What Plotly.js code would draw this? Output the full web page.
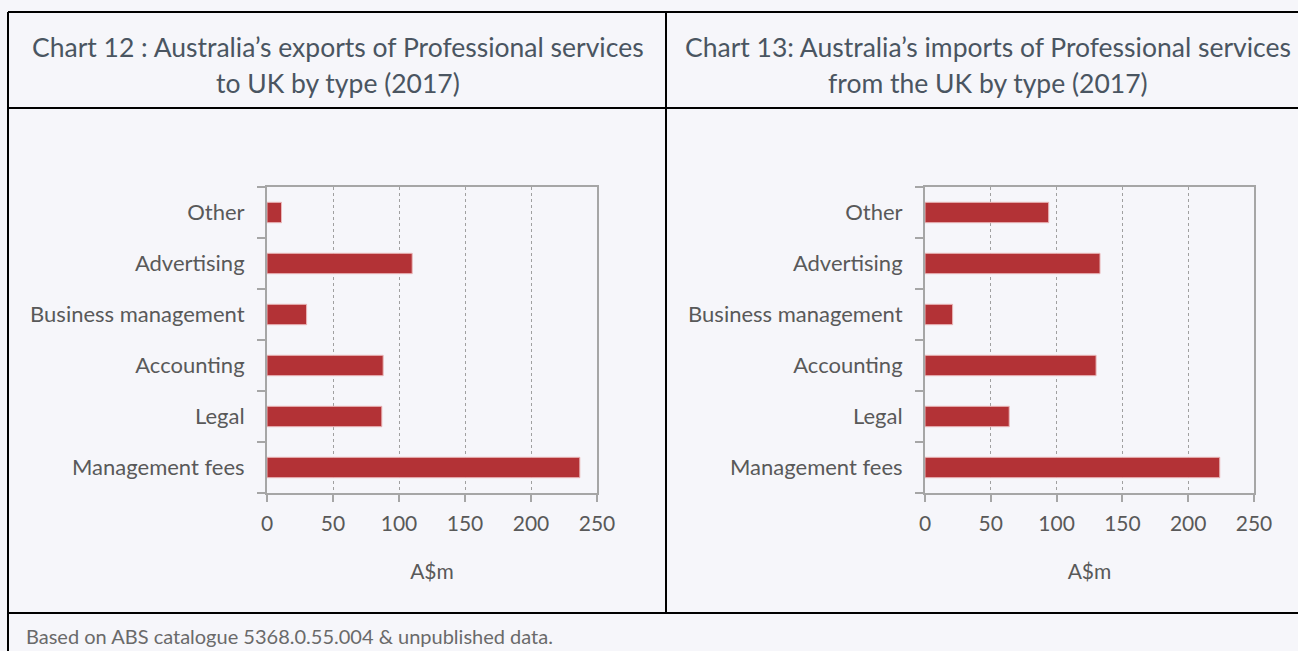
<!DOCTYPE html>
<html>
<head>
<meta charset="utf-8">
<script src="https://cdn.plot.ly/plotly-3.0.1.min.js"></script>
<style>
html,body{margin:0;padding:0;background:#f6f6fa;}
#chart{width:1298px;height:651px;}
</style>
</head>
<body>
<div id="chart"></div>
<script>
const categories = ['Management fees', 'Legal', 'Accounting', 'Business management', 'Advertising', 'Other'];
const exportValues = [237, 87, 88, 30, 110, 11];
const importValues = [224, 64, 130, 21, 133, 94];
const xTickValues = [0, 50, 100, 150, 200, 250];
const leftTitleLines = ['Chart 12 : Australia\u2019s exports of Professional services', 'to UK by type (2017)'];
const rightTitleLines = ['Chart 13: Australia\u2019s imports of Professional services', 'from the UK by type (2017)'];
const unitLabel = 'A$m';
const footnote = 'Based on ABS catalogue 5368.0.55.004 & unpublished data.';

const W = 1298, H = 651;
const px = x => x / W;
const py = y => 1 - y / H;
const FONT = 'Lato, "Open Sans", sans-serif';
const barColor = '#b33236';
const tickColor = '#595959';
const titleColor = '#4a5561';
const axisGray = '#a6a6a6';

const barMarker = {color: barColor, line: {color: '#eab8ba', width: 1}};

const traces = [
  {type: 'bar', orientation: 'h', y: categories, x: exportValues, marker: barMarker, xaxis: 'x', yaxis: 'y', hoverinfo: 'x+y'},
  {type: 'bar', orientation: 'h', y: categories, x: importValues, marker: barMarker, xaxis: 'x2', yaxis: 'y2', hoverinfo: 'x+y'}
];

function xAxis(domain, anchor) {
  return {
    domain: domain, anchor: anchor, range: [0, 250], tickvals: xTickValues,
    showgrid: true, gridcolor: '#a0a0a0', griddash: 'dot', gridwidth: 1,
    showline: true, linecolor: axisGray, linewidth: 2, mirror: true,
    ticks: 'outside', ticklen: 7, tickcolor: axisGray, tickwidth: 1.5,
    zeroline: false, fixedrange: true,
    tickfont: {family: FONT, size: 21, color: tickColor},
    ticklabelstandoff: 4,
    title: {text: unitLabel, font: {family: FONT, size: 21, color: tickColor}, standoff: 30}
  };
}
function yAxis(domain, anchor) {
  return {
    domain: domain, anchor: anchor, type: 'category',
    showgrid: false, showline: true, linecolor: axisGray, linewidth: 2, mirror: true,
    ticks: 'outside', ticklen: 8, tickcolor: axisGray, tickwidth: 1.5, tickson: 'boundaries',
    fixedrange: true, ticklabelstandoff: 16,
    tickfont: {family: FONT, size: 22, color: tickColor}
  };
}

const yDom = [py(493), py(187)];
const layout = {
  width: W, height: H,
  margin: {l: 0, r: 0, t: 0, b: 0, pad: 0},
  paper_bgcolor: '#f6f6fa', plot_bgcolor: '#f6f6fa',
  showlegend: false, bargap: 0.6,
  font: {family: FONT},
  xaxis: xAxis([px(267), px(597)], 'y'),
  yaxis: yAxis(yDom, 'x'),
  xaxis2: xAxis([px(925), px(1254)], 'y2'),
  yaxis2: yAxis(yDom, 'x2'),
  annotations: [
    {text: leftTitleLines[0], x: px(338), y: py(47), xref: 'paper', yref: 'paper', showarrow: false, xanchor: 'center', yanchor: 'middle', font: {family: FONT, size: 26.5, color: titleColor}},
    {text: leftTitleLines[1], x: px(338), y: py(83), xref: 'paper', yref: 'paper', showarrow: false, xanchor: 'center', yanchor: 'middle', font: {family: FONT, size: 26.5, color: titleColor}},
    {text: rightTitleLines[0], x: px(988), y: py(47), xref: 'paper', yref: 'paper', showarrow: false, xanchor: 'center', yanchor: 'middle', font: {family: FONT, size: 26.5, color: titleColor}},
    {text: rightTitleLines[1], x: px(988), y: py(83), xref: 'paper', yref: 'paper', showarrow: false, xanchor: 'center', yanchor: 'middle', font: {family: FONT, size: 26.5, color: titleColor}},
    {text: footnote, x: px(24), y: py(636), xref: 'paper', yref: 'paper', showarrow: false, xanchor: 'left', yanchor: 'middle', font: {family: FONT, size: 20, color: '#6a6a6a'}}
  ],
  shapes: [
    {type: 'line', xref: 'paper', yref: 'paper', x0: px(8), x1: 1, y0: py(12), y1: py(12), line: {color: '#000', width: 2}},
    {type: 'line', xref: 'paper', yref: 'paper', x0: px(8), x1: 1, y0: py(108), y1: py(108), line: {color: '#000', width: 2}},
    {type: 'line', xref: 'paper', yref: 'paper', x0: px(8), x1: 1, y0: py(613), y1: py(613), line: {color: '#000', width: 2}},
    {type: 'line', xref: 'paper', yref: 'paper', x0: px(8), x1: px(8), y0: py(12), y1: 0, line: {color: '#000', width: 2}},
    {type: 'line', xref: 'paper', yref: 'paper', x0: px(666), x1: px(666), y0: py(12), y1: py(613), line: {color: '#000', width: 2}}
  ]
};

Plotly.newPlot('chart', traces, layout, {displayModeBar: false, staticPlot: false});
</script>
</body>
</html>
